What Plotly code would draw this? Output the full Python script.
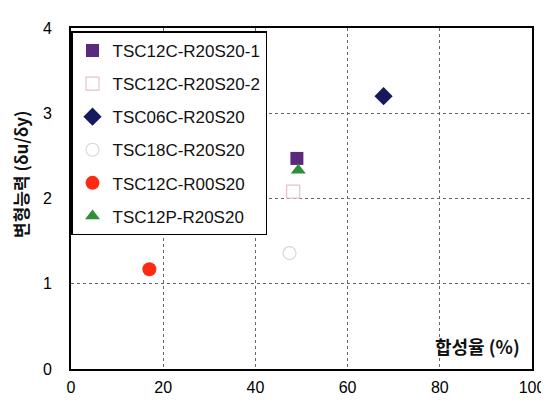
import plotly.graph_objects as go

series_names = ["TSC12C-R20S20-1", "TSC12C-R20S20-2", "TSC06C-R20S20",
                "TSC18C-R20S20", "TSC12C-R00S20", "TSC12P-R20S20"]
x_vals = [49.0, 48.2, 67.8, 47.4, 17.0, 49.3]
y_vals = [2.47, 2.08, 3.20, 1.36, 1.17, 2.33]
x_ticks = [0, 20, 40, 60, 80, 100]
y_ticks = [0, 1, 2, 3, 4]

symbols = ["square", "square-open", "diamond", "circle-open", "circle", "triangle-up"]
colors = ["#5b2a7e", "#e6c2cf", "#141a5c", "#d8d8d8", "#ff2a12", "#2e8f3a"]
sizes = [13, 13, 14, 13, 14, 13]

fig = go.Figure()
for i, name in enumerate(series_names):
    fig.add_trace(go.Scatter(
        x=[x_vals[i]], y=[y_vals[i]], mode="markers", name=name,
        legendgroup=name,
        marker=dict(symbol=symbols[i], size=sizes[i], color=colors[i],
                    line=dict(width=1.2 if "open" in symbols[i] else 0, color=colors[i]))
    ))

fig.update_layout(
    width=549, height=405,
    margin=dict(l=63, r=12, t=13, b=44),
    paper_bgcolor="white", plot_bgcolor="white",
    font=dict(family="Liberation Sans, Arial, sans-serif", color="black"),
    showlegend=True,
    legend=dict(x=0.0, y=0.99, xanchor="left", yanchor="top",
                bordercolor="black", borderwidth=1.5, bgcolor="white",
                font=dict(size=17, family="Liberation Sans, Arial, sans-serif", color="#111"),
                tracegroupgap=8, itemwidth=30),
    xaxis=dict(range=[0, 100], tickvals=x_ticks, showgrid=True,
               gridcolor="#666", griddash="dot", gridwidth=1,
               showline=True, linecolor="black", linewidth=2, mirror=True,
               zeroline=False, ticks="", tickfont=dict(size=16),
               ticklabelstandoff=3),
    yaxis=dict(range=[0, 4], tickvals=y_ticks, showgrid=True,
               gridcolor="#666", griddash="dot", gridwidth=1,
               showline=True, linecolor="black", linewidth=2, mirror=True,
               zeroline=False, ticks="", tickfont=dict(size=16),
               ticklabelstandoff=14),
    annotations=[
        dict(text="<b>합성율 (%)</b>", xref="paper", yref="paper",
             x=0.978, y=0.066, xanchor="right", yanchor="middle",
             showarrow=False,
             font=dict(size=18, family="Noto Sans CJK KR, Liberation Sans", color="#111")),
        dict(text="<b>변형능력 (δu/δy)</b>", xref="paper", yref="paper",
             x=-0.11, y=0.57, xanchor="center", yanchor="middle",
             textangle=-90, showarrow=False,
             font=dict(size=17, family="Noto Sans CJK KR, Liberation Sans", color="#111")),
    ]
)

fig.write_html("out.html")
